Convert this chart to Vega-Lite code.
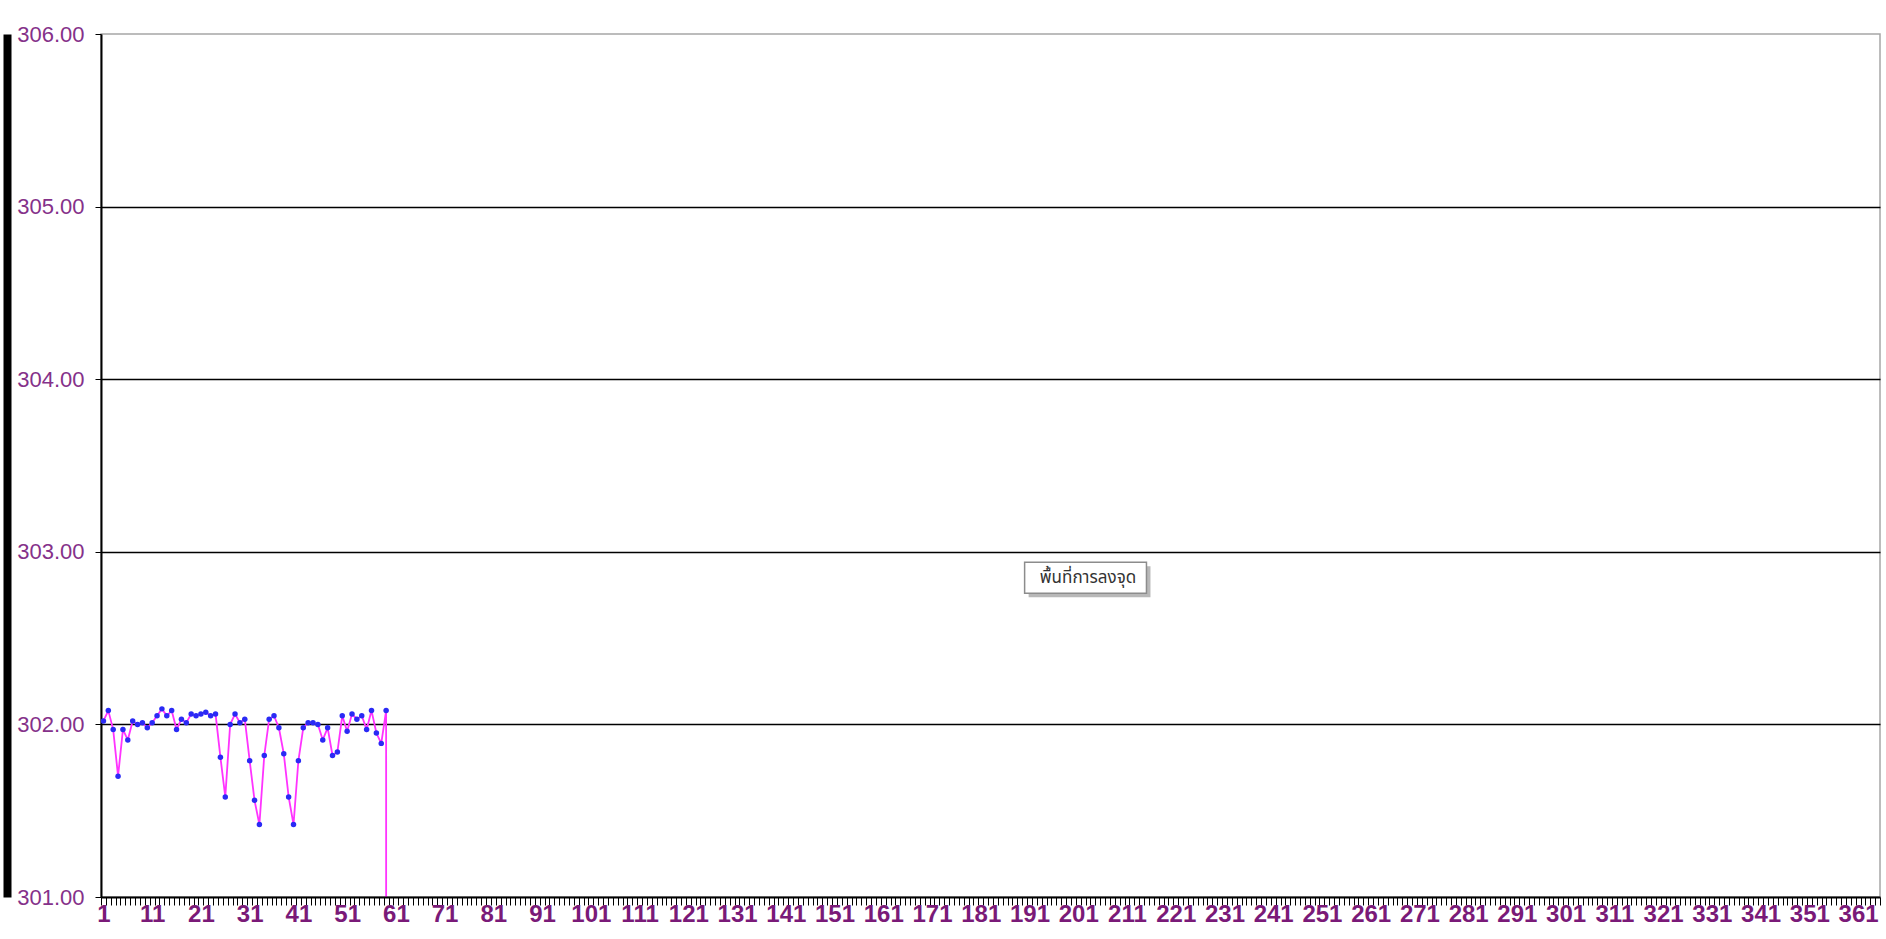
{
  "$schema": "https://vega.github.io/schema/vega-lite/v6.json",
  "width": 1779,
  "height": 863,
  "autosize": {"type": "none"},
  "padding": {"left": 101, "top": 34, "right": 6, "bottom": 42},
  "background": "white",
  "config": {"view": {"stroke": "#a6a6a6", "strokeWidth": 1.5}},
  "datasets": {
    "series": [
      {"day": 1, "level": 302.02}, {"day": 2, "level": 302.08}, {"day": 3, "level": 301.97}, {"day": 4, "level": 301.70},
      {"day": 5, "level": 301.97}, {"day": 6, "level": 301.91}, {"day": 7, "level": 302.02}, {"day": 8, "level": 302.00},
      {"day": 9, "level": 302.01}, {"day": 10, "level": 301.98}, {"day": 11, "level": 302.01}, {"day": 12, "level": 302.05},
      {"day": 13, "level": 302.09}, {"day": 14, "level": 302.05}, {"day": 15, "level": 302.08}, {"day": 16, "level": 301.97},
      {"day": 17, "level": 302.03}, {"day": 18, "level": 302.01}, {"day": 19, "level": 302.06}, {"day": 20, "level": 302.05},
      {"day": 21, "level": 302.06}, {"day": 22, "level": 302.07}, {"day": 23, "level": 302.05}, {"day": 24, "level": 302.06},
      {"day": 25, "level": 301.81}, {"day": 26, "level": 301.58}, {"day": 27, "level": 302.00}, {"day": 28, "level": 302.06},
      {"day": 29, "level": 302.01}, {"day": 30, "level": 302.03}, {"day": 31, "level": 301.79}, {"day": 32, "level": 301.56},
      {"day": 33, "level": 301.42}, {"day": 34, "level": 301.82}, {"day": 35, "level": 302.03}, {"day": 36, "level": 302.05},
      {"day": 37, "level": 301.98}, {"day": 38, "level": 301.83}, {"day": 39, "level": 301.58}, {"day": 40, "level": 301.42},
      {"day": 41, "level": 301.79}, {"day": 42, "level": 301.98}, {"day": 43, "level": 302.01}, {"day": 44, "level": 302.01},
      {"day": 45, "level": 302.00}, {"day": 46, "level": 301.91}, {"day": 47, "level": 301.98}, {"day": 48, "level": 301.82},
      {"day": 49, "level": 301.84}, {"day": 50, "level": 302.05}, {"day": 51, "level": 301.96}, {"day": 52, "level": 302.06},
      {"day": 53, "level": 302.03}, {"day": 54, "level": 302.05}, {"day": 55, "level": 301.97}, {"day": 56, "level": 302.08},
      {"day": 57, "level": 301.95}, {"day": 58, "level": 301.89}, {"day": 59, "level": 302.08}, {"day": 60, "level": 0}
    ],
    "note": [
      {"day": 190, "day2": 215, "level": 302.76, "level2": 302.94, "tday": 203, "tlevel": 302.85, "label": "พื้นที่การลงจุด"}
    ]
  },
  "resolve": {"axis": {"y": "independent"}},
  "layer": [
    {
      "data": {"name": "note"},
      "mark": {"type": "rect", "fill": "#b8b8b8", "xOffset": 4, "x2Offset": 4, "yOffset": 4, "y2Offset": 4},
      "encoding": {
        "x": {"field": "day", "type": "ordinal"},
        "x2": {"field": "day2"},
        "y": {"field": "level", "type": "quantitative", "axis": null},
        "y2": {"field": "level2"}
      }
    },
    {
      "data": {"name": "note"},
      "mark": {"type": "rect", "fill": "white", "stroke": "#8c8c8c", "strokeWidth": 1.5},
      "encoding": {
        "x": {"field": "day", "type": "ordinal"},
        "x2": {"field": "day2"},
        "y": {"field": "level", "type": "quantitative", "axis": null},
        "y2": {"field": "level2"}
      }
    },
    {
      "data": {"name": "note"},
      "mark": {"type": "text", "font": "Tahoma, Noto Sans Thai, DejaVu Sans, sans-serif", "fontSize": 17, "color": "#333333", "align": "center", "baseline": "middle"},
      "encoding": {
        "x": {"field": "tday", "type": "ordinal"},
        "y": {"field": "tlevel", "type": "quantitative", "axis": {"orient": "left", "offset": 94, "domain": true, "domainWidth": 8, "domainColor": "black", "labels": false, "ticks": false, "grid": false, "title": null}},
        "text": {"field": "label"}
      }
    },
    {
      "data": {"name": "series"},
      "mark": {"type": "line", "color": "#ff33ff", "strokeWidth": 1.8, "clip": true},
      "encoding": {
        "x": {
          "field": "day", "type": "ordinal", "bandPosition": 0.5,
          "scale": {"type": "band", "paddingInner": 0, "paddingOuter": 0, "domain": [
            1,2,3,4,5,6,7,8,9,10,11,12,13,14,15,16,17,18,19,20,21,22,23,24,25,26,27,28,29,30,
            31,32,33,34,35,36,37,38,39,40,41,42,43,44,45,46,47,48,49,50,51,52,53,54,55,56,57,58,59,60,
            61,62,63,64,65,66,67,68,69,70,71,72,73,74,75,76,77,78,79,80,81,82,83,84,85,86,87,88,89,90,
            91,92,93,94,95,96,97,98,99,100,101,102,103,104,105,106,107,108,109,110,111,112,113,114,115,116,117,118,119,120,
            121,122,123,124,125,126,127,128,129,130,131,132,133,134,135,136,137,138,139,140,141,142,143,144,145,146,147,148,149,150,
            151,152,153,154,155,156,157,158,159,160,161,162,163,164,165,166,167,168,169,170,171,172,173,174,175,176,177,178,179,180,
            181,182,183,184,185,186,187,188,189,190,191,192,193,194,195,196,197,198,199,200,201,202,203,204,205,206,207,208,209,210,
            211,212,213,214,215,216,217,218,219,220,221,222,223,224,225,226,227,228,229,230,231,232,233,234,235,236,237,238,239,240,
            241,242,243,244,245,246,247,248,249,250,251,252,253,254,255,256,257,258,259,260,261,262,263,264,265,266,267,268,269,270,
            271,272,273,274,275,276,277,278,279,280,281,282,283,284,285,286,287,288,289,290,291,292,293,294,295,296,297,298,299,300,
            301,302,303,304,305,306,307,308,309,310,311,312,313,314,315,316,317,318,319,320,321,322,323,324,325,326,327,328,329,330,
            331,332,333,334,335,336,337,338,339,340,341,342,343,344,345,346,347,348,349,350,351,352,353,354,355,356,357,358,359,360,
            361,362,363,364,365]},
          "axis": {
            "title": null,
            "labelAngle": 0,
            "labelAlign": "center",
            "labelExpr": "(datum.value - 1) % 10 == 0 ? datum.label : ''",
            "labelOverlap": false,
            "labelBound": false,
            "labelFlush": false,
            "labelFont": "Liberation Sans, Arial, sans-serif",
            "labelFontSize": 24,
            "labelFontWeight": "bold",
            "labelColor": "#7a1a78",
            "labelPadding": 9,
            "tickBand": "extent",
            "tickSize": 8,
            "tickColor": "black",
            "tickWidth": 1,
            "domainColor": "black",
            "domainWidth": 2,
            "grid": false
          }
        },
        "y": {
          "field": "level", "type": "quantitative",
          "scale": {"domain": [301, 306], "nice": false, "zero": false},
          "axis": {
            "orient": "left",
            "title": null,
            "values": [301, 302, 303, 304, 305, 306],
            "format": ".2f",
            "labelFont": "Liberation Sans, Arial, sans-serif",
            "labelFontSize": 22,
            "labelColor": "#85318a",
            "labelPadding": 11,
            "tickSize": 6,
            "tickColor": "black",
            "domainColor": "black",
            "domainWidth": 2,
            "grid": true,
            "gridColor": {"condition": {"test": "datum.value >= 306 || datum.value <= 301", "value": "transparent"}, "value": "black"},
            "gridWidth": 1.5
          }
        }
      }
    },
    {
      "data": {"name": "series"},
      "mark": {"type": "point", "filled": true, "color": "#2a2af5", "size": 30, "opacity": 1, "clip": true},
      "encoding": {
        "x": {"field": "day", "type": "ordinal", "bandPosition": 0.5},
        "y": {"field": "level", "type": "quantitative", "axis": null}
      }
    }
  ]
}
